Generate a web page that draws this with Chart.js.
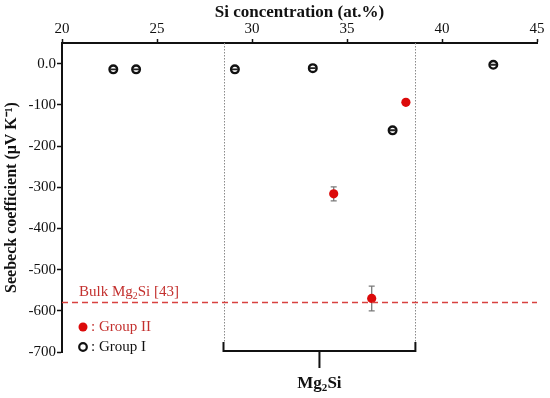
<!DOCTYPE html>
<html>
<head>
<meta charset="utf-8">
<script src="https://cdn.jsdelivr.net/npm/chart.js@4.4.1/dist/chart.umd.min.js"></script>
<style>
  html, body { margin: 0; padding: 0; background: #fff; }
  #wrap { width: 550px; height: 398px; position: relative; }
</style>
</head>
<body>
<div id="wrap"><canvas id="seebeckChart"></canvas></div>
<script>
// Group I (open circles)
const groupIx = [22.7, 23.9, 29.1, 33.2, 37.4, 42.7];
const groupIy = [-14, -14, -14, -11, -162, -3];
const groupIerr = [0.8, 0.8, 0.8, 0.8, 0.8, 0.8];

// Group II (filled red circles)
const groupIIx = [34.3, 36.3, 38.1];
const groupIIy = [-316, -570, -94];
const groupIIerr = [17, 30, 0];

// Bulk Mg2Si reference line
const bulkValue = -580;
const xRange = [20, 45];

// Mg2Si region bounds (dotted lines)
const regionBounds = [28.5, 38.6];

const xTicks = [20, 25, 30, 35, 40, 45];
const yTicks = [0, -100, -200, -300, -400, -500, -600, -700];

const serif = "'Liberation Serif', 'Times New Roman', serif";
const red = '#dc0a0a';
const textRed = '#c3302e';

function toPoints(xs, ys) {
    return xs.map(function (x, i) { return { x: x, y: ys[i] }; });
}

// draw text with a subscript part: parts = [[text, isSub], ...]
function drawRich(ctx, parts, x, y, size, bold, align) {
    var weight = bold ? 'bold ' : '';
    var total = 0;
    parts.forEach(function (p) {
        ctx.font = weight + (p[1] ? size * 0.65 : size) + 'px ' + serif;
        total += ctx.measureText(p[0]).width;
    });
    var cx = align === 'center' ? x - total / 2 : x;
    ctx.textAlign = 'left';
    ctx.textBaseline = 'alphabetic';
    parts.forEach(function (p) {
        ctx.font = weight + (p[1] ? size * 0.65 : size) + 'px ' + serif;
        ctx.fillText(p[0], cx, p[1] ? y + size * 0.2 : y);
        cx += ctx.measureText(p[0]).width;
    });
}

function drawErrors(chart, onTop) {
    const ctx = chart.ctx;
    const yScale = chart.scales.y;
    chart.data.datasets.forEach(function (ds, di) {
        if (!ds.errors || !!ds.errorsOnTop !== onTop) return;
        const meta = chart.getDatasetMeta(di);
        ctx.save();
        ctx.strokeStyle = ds.errorColor;
        ctx.lineWidth = 1.3;
        meta.data.forEach(function (pt, i) {
            const e = ds.errors[i];
            if (!e) return;
            const v = ds.data[i].y;
            const yTop = yScale.getPixelForValue(v + e);
            const yBot = yScale.getPixelForValue(v - e);
            ctx.beginPath();
            ctx.moveTo(pt.x, yTop); ctx.lineTo(pt.x, yBot);
            ctx.moveTo(pt.x - 3, yTop); ctx.lineTo(pt.x + 3, yTop);
            ctx.moveTo(pt.x - 3, yBot); ctx.lineTo(pt.x + 3, yBot);
            ctx.stroke();
        });
        ctx.restore();
    });
}

const extrasPlugin = {
    id: 'extras',
    beforeDatasetsDraw: function (chart) {
        const ctx = chart.ctx;
        const area = chart.chartArea;
        const xs = chart.scales.x;
        // dotted region lines
        ctx.save();
        ctx.strokeStyle = '#8a8a8a';
        ctx.lineWidth = 1;
        ctx.setLineDash([1.5, 1.5]);
        regionBounds.forEach(function (b) {
            const px = Math.round(xs.getPixelForValue(b)) + 0.5;
            ctx.beginPath();
            ctx.moveTo(px, area.top);
            ctx.lineTo(px, area.bottom - 9);
            ctx.stroke();
        });
        ctx.restore();
        drawErrors(chart, false);
    },
    afterDatasetsDraw: function (chart) {
        drawErrors(chart, true);
    },
    afterDraw: function (chart) {
        const ctx = chart.ctx;
        const area = chart.chartArea;
        const xs = chart.scales.x;
        const ys = chart.scales.y;
        const x1 = xs.getPixelForValue(regionBounds[0]);
        const x2 = xs.getPixelForValue(regionBounds[1]);
        const mid = (x1 + x2) / 2;
        const by = area.bottom - 1;

        // bracket
        ctx.save();
        ctx.strokeStyle = '#111';
        ctx.lineWidth = 2;
        ctx.beginPath();
        ctx.moveTo(x1, by - 9);
        ctx.lineTo(x1, by);
        ctx.lineTo(x2, by);
        ctx.lineTo(x2, by - 9);
        ctx.moveTo(mid, by);
        ctx.lineTo(mid, by + 17);
        ctx.stroke();
        ctx.fillStyle = '#111';
        drawRich(ctx, [['Mg', false], ['2', true], ['Si', false]], mid, by + 37, 17, true, 'center');

        // bulk label
        ctx.fillStyle = textRed;
        drawRich(ctx, [['Bulk Mg', false], ['2', true], ['Si [43]', false]],
            area.left + 17, ys.getPixelForValue(bulkValue) - 7, 15, false, 'left');

        // legend
        const lx = area.left + 21;
        ctx.beginPath();
        ctx.arc(lx, area.bottom - 25, 4.5, 0, Math.PI * 2);
        ctx.fillStyle = red;
        ctx.fill();
        ctx.beginPath();
        ctx.arc(lx, area.bottom - 5, 3.8, 0, Math.PI * 2);
        ctx.lineWidth = 2.2;
        ctx.strokeStyle = '#111';
        ctx.stroke();
        ctx.font = '15px ' + serif;
        ctx.textAlign = 'left';
        ctx.textBaseline = 'middle';
        ctx.fillStyle = textRed;
        ctx.fillText(': Group II', lx + 8, area.bottom - 25);
        ctx.fillStyle = '#111';
        ctx.fillText(': Group I', lx + 8, area.bottom - 5);
        ctx.restore();
    }
};

const ctx = document.getElementById('seebeckChart').getContext('2d');
new Chart(ctx, {
    type: 'scatter',
    data: {
        datasets: [
            {
                label: 'Bulk Mg2Si [43]',
                type: 'line',
                data: toPoints(xRange, [bulkValue, bulkValue]),
                borderColor: '#d8413f',
                borderWidth: 1.6,
                borderDash: [6, 4],
                pointRadius: 0,
                fill: false
            },
            {
                label: 'Group II',
                data: toPoints(groupIIx, groupIIy),
                errors: groupIIerr,
                errorColor: '#7a7a7a',
                pointRadius: 4.6,
                pointBackgroundColor: red,
                pointBorderColor: red,
                pointBorderWidth: 0
            },
            {
                label: 'Group I',
                data: toPoints(groupIx, groupIy),
                errors: groupIerr,
                errorColor: '#222',
                errorsOnTop: true,
                pointRadius: 3.8,
                pointBackgroundColor: '#fff',
                pointBorderColor: '#111',
                pointBorderWidth: 2.4
            }
        ]
    },
    options: {
        responsive: true,
        maintainAspectRatio: false,
        animation: false,
        layout: { padding: { left: 0, right: 13, top: 0, bottom: 46 } },
        plugins: {
            legend: { display: false },
            tooltip: { enabled: false }
        },
        scales: {
            x: {
                type: 'linear',
                position: 'top',
                min: 20,
                max: 45,
                afterFit: function (s) { s.height = 43; },
                afterBuildTicks: function (s) { s.ticks = xTicks.map(function (v) { return { value: v }; }); },
                grid: { drawOnChartArea: false, color: '#111', tickLength: 4, tickWidth: 1.5 },
                border: { display: true, color: '#111', width: 2 },
                ticks: { color: '#111', padding: 1, font: { family: serif, size: 15 } },
                title: {
                    display: true,
                    text: 'Si concentration (at.%)',
                    color: '#111',
                    padding: { top: 2, bottom: 0 },
                    font: { family: serif, size: 17, weight: 'bold' }
                }
            },
            y: {
                type: 'linear',
                min: -700,
                max: 50,
                afterFit: function (s) { s.width = 62; },
                afterBuildTicks: function (s) { s.ticks = yTicks.map(function (v) { return { value: v }; }); },
                grid: { drawOnChartArea: false, color: '#111', tickLength: 5, tickWidth: 1.5 },
                border: { display: true, color: '#111', width: 2 },
                ticks: {
                    color: '#111',
                    padding: 1,
                    font: { family: serif, size: 15 },
                    callback: function (v) { return v === 0 ? '0.0' : v; }
                },
                title: {
                    display: true,
                    text: 'Seebeck coefficient (\u03bcV K\u207b\u00b9)',
                    color: '#111',
                    padding: { top: 2, bottom: 0 },
                    font: { family: serif, size: 16, weight: 'bold' }
                }
            }
        }
    },
    plugins: [extrasPlugin]
});
</script>
</body>
</html>
